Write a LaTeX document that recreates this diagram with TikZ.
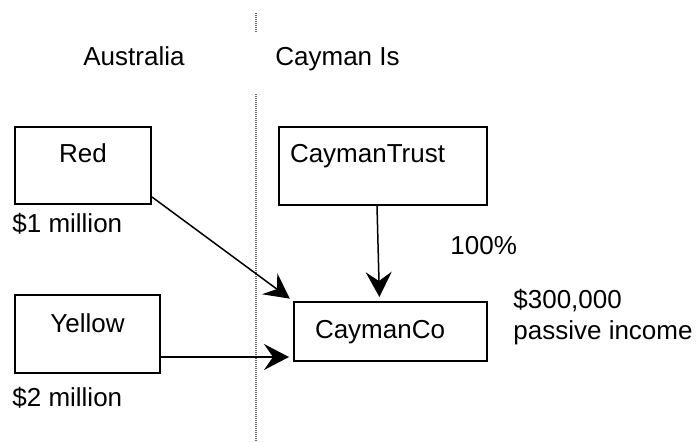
\documentclass[tikz,border=0pt]{standalone}
\usepackage{fontspec}
\setmainfont{Liberation Sans}
\usepackage{tikz}
\usetikzlibrary{arrows.meta,calc,positioning}
\tikzset{every picture/.style={
  >={Stealth[length=12.5pt,width=13pt,inset=4.5pt]}  % Big open-backed arrow heads.
  }
}

\begin{document}
\begin{tikzpicture}[
    x=0.5pt,y=-0.5pt,
    font=\fontsize{13pt}{15.5pt}\selectfont,
    ent/.style={
      draw,
      line width=1pt,
      inner ysep=0pt,
      text height=18pt
    },
    lbl/.style={
      anchor=base west,
      inner sep=0pt
    },
    flow/.style={
      ->,
      line width=0.75pt,
      shorten >=2pt
    }]

    \useasboundingbox (0,0) rectangle (699,442);

    % Draw the border between the two countries.
    \draw[black!60,line width=0.6pt,dash pattern=on 0.5pt off 0.5pt] (256,13) -- (256,32);
    \draw[black!60,line width=0.6pt,dash pattern=on 0.5pt off 0.5pt] (256,94) -- (256,442);

    \node[lbl] (aus) at (83,66) {Australia};
    \node[lbl] (cay) at (275,66) {Cayman Is};

    % Draw the entities.
    \node[ent,inner xsep=0pt,text width=68pt,align=center,text depth=20.5pt]
      (red) at (83,165.5) {Red};
    \node[ent,inner xsep=0pt,text width=72.5pt,align=center,text depth=20.5pt,
      text height=18.5pt] (yellow) at (87.5,334) {Yellow};
    \node[ent,inner xsep=5.5pt,text width=93pt,align=left,text depth=21pt]
      (trust) at (383,166) {CaymanTrust};
    \node[ent,inner xsep=10.5pt,text width=75.5pt,align=left,text depth=11.5pt]
      (co) at (390.5,331.5) {CaymanCo};

    % Draw the amounts.
    \node[lbl] (redamt) at (12,233) {\$1 million};
    \node[lbl] (yelamt) at (12,406) {\$2 million};
    \node[lbl] (share) at (450,255) {100\%};
    \node[lbl,align=left,anchor=north west] (income)
      at (513,289) {\$300,000\\passive income};

    % Draw the flows into CaymanCo.
    \draw[flow] ([yshift=4pt] red.south east) -- (co.north west);
    \draw[flow] ([yshift=8.5pt] yellow.south east) --
      ([yshift=2.5pt] co.south west);
    \draw[flow] ([xshift=-3pt] trust.south) -- ([xshift=-5.5pt] co.north);
  \end{tikzpicture}
\end{document}
